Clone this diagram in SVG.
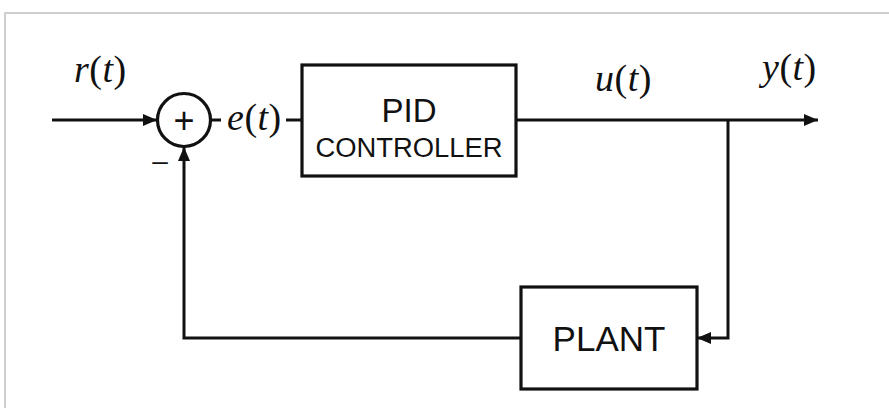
<svg xmlns="http://www.w3.org/2000/svg" width="889" height="408" viewBox="0 0 889 408">
<style>
.ln{fill:none;stroke:#111;stroke-width:3}
.box{fill:#fff;stroke:#111;stroke-width:3.2}
.sans{font-family:"Liberation Sans",Arial,sans-serif;fill:#111;text-anchor:middle}
.math{font-family:"Liberation Serif","Times New Roman",serif;font-size:38px;fill:#111;letter-spacing:0.5px}
.math .v{font-style:italic}
</style>
<defs>
<marker id="ah" viewBox="0 0 14 12" refX="14" refY="6" markerWidth="14" markerHeight="12" markerUnits="userSpaceOnUse" orient="auto">
<path d="M0,0 L14,6 L0,12 Z" fill="#111"/>
</marker>
</defs>
<rect x="0" y="0" width="889" height="408" fill="#fff"/>
<path d="M5,408 V13 H889" fill="none" stroke="#cfcfcf" stroke-width="2"/>

<g id="connectors">
<line class="ln" x1="52" y1="120" x2="157" y2="120" marker-end="url(#ah)"/>
<line class="ln" x1="211" y1="120" x2="221" y2="120"/>
<line class="ln" x1="286" y1="120" x2="302" y2="120"/>
<line class="ln" x1="516" y1="120" x2="818" y2="120" marker-end="url(#ah)"/>
<polyline class="ln" points="728,120 728,338 697,338" marker-end="url(#ah)"/>
<polyline class="ln" points="521,338 184,338 184,147" marker-end="url(#ah)"/>
</g>

<g id="sum">
<circle class="box" cx="184" cy="120" r="26.5"/>
<text class="sans" x="184" y="133" font-size="36">+</text>
<text class="sans" x="160" y="170" font-size="28">–</text>
</g>

<g id="pid">
<rect class="box" x="302" y="65" width="214" height="111"/>
<text class="sans" x="409" y="122" font-size="33">PID</text>
<text class="sans" x="409" y="157" font-size="27" textLength="187" lengthAdjust="spacingAndGlyphs">CONTROLLER</text>
</g>

<g id="plant">
<rect class="box" x="521" y="287" width="176" height="102"/>
<text class="sans" x="609" y="351" font-size="35">PLANT</text>
</g>

<g id="labels">
<text class="math" x="74" y="82"><tspan class="v">r</tspan>(<tspan class="v">t</tspan>)</text>
<text class="math" x="227" y="130"><tspan class="v">e</tspan>(<tspan class="v">t</tspan>)</text>
<text class="math" x="595" y="91"><tspan class="v">u</tspan>(<tspan class="v">t</tspan>)</text>
<text class="math" x="762" y="80"><tspan class="v">y</tspan>(<tspan class="v">t</tspan>)</text>
</g>
</svg>
